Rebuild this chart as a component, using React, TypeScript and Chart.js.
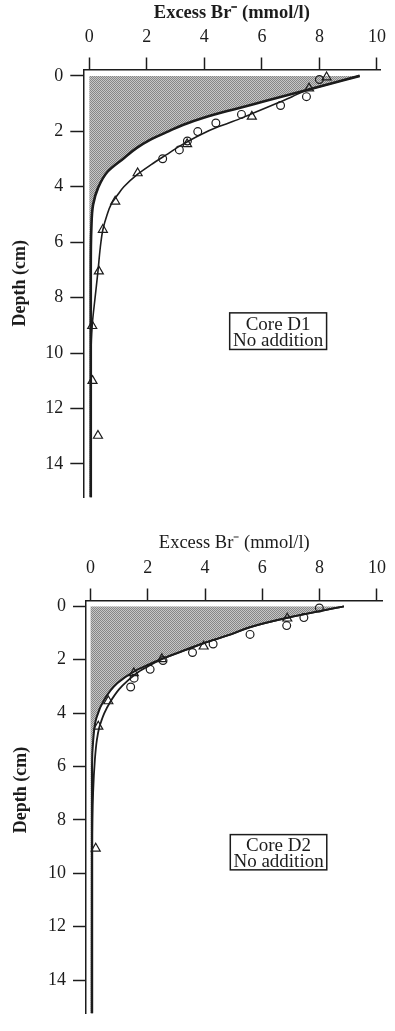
import { useEffect, useRef } from 'react';
import { Chart, registerables } from 'chart.js';

Chart.register(...registerables);

// ---------- axis ticks ----------
const X_TICKS = [0, 2, 4, 6, 8, 10];
const Y_TICKS = [0, 2, 4, 6, 8, 10, 12, 14];

// ---------- Core D1 ----------
const D1_MODEL_DEPTH = [0, 0.5, 0.9, 1.2, 1.5, 1.77, 2.0, 2.31, 2.6, 2.97, 3.45, 4.05, 4.65, 5.5, 7.0, 15.3];
const D1_MODEL_BR = [9.4, 7.6, 6.15, 5.05, 4.0, 3.25, 2.75, 2.11, 1.65, 1.2, 0.64, 0.3, 0.13, 0.07, 0.05, 0.05];

const D1_FIT_DEPTH = [0, 0.25, 0.5, 0.75, 1.0, 1.41, 1.65, 1.83, 2.13, 2.5, 2.85, 3.2, 3.57, 4.0, 4.3, 4.65, 5.0, 5.55, 6.2, 7.05, 8.0, 9.0, 10.0, 15.3];
const D1_FIT_BR = [9.4, 8.5, 7.6, 7.05, 6.5, 5.55, 4.98, 4.5, 3.85, 3.2, 2.67, 2.15, 1.65, 1.2, 0.98, 0.75, 0.62, 0.47, 0.38, 0.3, 0.2, 0.1, 0.06, 0.06];

const D1_CIRCLE_DEPTH = [0.13, 0.75, 1.07, 1.39, 1.7, 2.01, 2.35, 2.67, 2.99];
const D1_CIRCLE_BR = [8.0, 7.55, 6.65, 5.29, 4.4, 3.77, 3.41, 3.13, 2.55];

const D1_TRIANGLE_DEPTH = [0.05, 0.45, 1.47, 2.46, 3.51, 4.53, 5.55, 7.05, 9.02, 11.0, 12.98];
const D1_TRIANGLE_BR = [8.25, 7.64, 5.65, 3.4, 1.68, 0.9, 0.47, 0.33, 0.1, 0.11, 0.3];

// ---------- Core D2 ----------
const D2_MODEL_DEPTH = [0, 0.42, 0.78, 1.05, 1.38, 1.7, 1.97, 2.2, 2.45, 2.87, 3.47, 4.19, 5.03, 6.0, 15.3];
const D2_MODEL_BR = [8.85, 6.91, 5.57, 4.9, 3.95, 3.15, 2.48, 1.98, 1.5, 0.94, 0.49, 0.2, 0.09, 0.05, 0.04];

const D2_FIT_DEPTH = [0, 0.42, 0.78, 1.05, 1.38, 1.7, 1.97, 2.25, 2.45, 2.8, 3.1, 3.59, 4.0, 4.31, 4.55, 5.0, 5.74, 6.94, 9.1, 15.3];
const D2_FIT_BR = [8.85, 6.91, 5.57, 4.9, 3.95, 3.15, 2.5, 2.0, 1.68, 1.28, 1.0, 0.68, 0.48, 0.37, 0.3, 0.22, 0.15, 0.09, 0.06, 0.06];

const D2_CIRCLE_DEPTH = [0.06, 0.42, 0.72, 1.05, 1.41, 1.73, 2.03, 2.36, 2.69, 3.02];
const D2_CIRCLE_BR = [7.99, 7.45, 6.85, 5.57, 4.28, 3.56, 2.53, 2.08, 1.52, 1.4];

const D2_TRIANGLE_DEPTH = [0.45, 1.5, 1.97, 2.5, 3.55, 4.5, 9.07];
const D2_TRIANGLE_BR = [6.87, 3.95, 2.49, 1.51, 0.62, 0.27, 0.18];

const X_TITLE = 'Excess Br\u207B (mmol/l)';
const Y_TITLE = 'Depth (cm)';

const INK = '#1c1c1c';
const SERIF = '"Liberation Serif", "Times New Roman", serif';

type Panel = {
  modelDepth: number[]; modelBr: number[];
  fitDepth: number[]; fitBr: number[];
  circleDepth: number[]; circleBr: number[];
  triDepth: number[]; triBr: number[];
  boxLines: string[];
  xMin: number; xMax: number; yMin: number; yMax: number;
  xAxisHeight: number; yAxisWidth: number;
  padRight: number; padBottom: number;
  titleWeight: string;
  modelWidth: number; fitWidth: number;
  axisYTitle: boolean;
  pluginYTitle: { x: number; y: number } | null;
};

const D1: Panel = {
  modelDepth: D1_MODEL_DEPTH, modelBr: D1_MODEL_BR,
  fitDepth: D1_FIT_DEPTH, fitBr: D1_FIT_BR,
  circleDepth: D1_CIRCLE_DEPTH, circleBr: D1_CIRCLE_BR,
  triDepth: D1_TRIANGLE_DEPTH, triBr: D1_TRIANGLE_BR,
  boxLines: ['Core D1', 'No addition'],
  xMin: -0.21, xMax: 10.12, yMin: -0.23, yMax: 15.2,
  xAxisHeight: 69.5, yAxisWidth: 83.3,
  padRight: 7, padBottom: 17,
  titleWeight: 'bold',
  modelWidth: 2.6, fitWidth: 1.6,
  axisYTitle: true,
  pluginYTitle: null,
};

const D2: Panel = {
  modelDepth: D2_MODEL_DEPTH, modelBr: D2_MODEL_BR,
  fitDepth: D2_FIT_DEPTH, fitBr: D2_FIT_BR,
  circleDepth: D2_CIRCLE_DEPTH, circleBr: D2_CIRCLE_BR,
  triDepth: D2_TRIANGLE_DEPTH, triBr: D2_TRIANGLE_BR,
  boxLines: ['Core D2', 'No addition'],
  xMin: -0.16, xMax: 10.2, yMin: -0.22, yMax: 15.24,
  xAxisHeight: 70.5, yAxisWidth: 86,
  padRight: 5, padBottom: 0,
  titleWeight: 'normal',
  modelWidth: 2.0, fitWidth: 1.8,
  axisYTitle: false,
  pluginYTitle: { x: 21, y: 260 },
};

function makePattern(): CanvasPattern | string {
  const c = document.createElement('canvas');
  c.width = 2;
  c.height = 2;
  const g = c.getContext('2d');
  if (!g) return '#a0a0a0';
  g.fillStyle = '#c6c6c6';
  g.fillRect(0, 0, 2, 2);
  g.fillStyle = '#868686';
  g.fillRect(0, 0, 1, 1);
  g.fillRect(1, 1, 1, 1);
  return g.createPattern(c, 'repeat') || '#a0a0a0';
}

const overlayPlugin = {
  id: 'overlay',
  afterDraw(chart: any, _args: any, opts: any) {
    const { ctx } = chart;
    const xs = chart.scales.x;
    const ys = chart.scales.y;
    ctx.save();
    // annotation box
    const l = xs.getPixelForValue(4.88);
    const r = xs.getPixelForValue(8.25);
    const t = ys.getPixelForValue(8.55);
    const b = ys.getPixelForValue(9.87);
    const h = b - t;
    ctx.lineWidth = 1.5;
    ctx.strokeStyle = INK;
    ctx.strokeRect(l, t, r - l, h);
    ctx.fillStyle = INK;
    ctx.font = `19px ${SERIF}`;
    ctx.textAlign = 'center';
    ctx.textBaseline = 'alphabetic';
    const cx = (l + r) / 2;
    const lines: string[] = opts.lines || [];
    if (lines[0]) ctx.fillText(lines[0], cx, t + 0.46 * h);
    if (lines[1]) ctx.fillText(lines[1], cx, t + 0.91 * h);
    // y title (when drawn manually)
    const yt = opts.yTitle;
    if (yt) {
      ctx.translate(yt.x, yt.y);
      ctx.rotate(-Math.PI / 2);
      ctx.font = `bold 18px ${SERIF}`;
      ctx.textAlign = 'center';
      ctx.textBaseline = 'middle';
      ctx.fillText(Y_TITLE, 0, 0);
    }
    ctx.restore();
  },
};

function pts(depth: number[], br: number[]) {
  return depth.map((d, i) => ({ x: br[i], y: d }));
}

function buildChart(canvas: HTMLCanvasElement, p: Panel) {
  const shade = makePattern();
  return new Chart(canvas, {
    type: 'line',
    data: {
      datasets: [
        {
          data: pts(p.modelDepth, p.modelBr),
          borderColor: INK,
          borderWidth: p.modelWidth,
          backgroundColor: shade as any,
          fill: 'origin',
          pointRadius: 0,
          cubicInterpolationMode: 'monotone',
          order: 4,
        },
        {
          data: pts(p.fitDepth, p.fitBr),
          borderColor: INK,
          borderWidth: p.fitWidth,
          fill: false,
          pointRadius: 0,
          cubicInterpolationMode: 'monotone',
          order: 3,
        },
        {
          data: pts(p.circleDepth, p.circleBr),
          showLine: false,
          pointStyle: 'circle',
          pointRadius: 3.9,
          pointBorderWidth: 1.2,
          pointBorderColor: INK,
          pointBackgroundColor: 'rgba(0,0,0,0)',
          order: 2,
        },
        {
          data: pts(p.triDepth, p.triBr),
          showLine: false,
          pointStyle: 'triangle',
          pointRadius: 5.2,
          pointBorderWidth: 1.2,
          pointBorderColor: INK,
          pointBackgroundColor: 'rgba(0,0,0,0)',
          order: 1,
        },
      ] as any,
    },
    options: {
      indexAxis: 'y',
      responsive: false,
      animation: false,
      events: [],
      layout: { padding: { left: 0, top: 0, right: p.padRight, bottom: p.padBottom } },
      plugins: {
        legend: { display: false },
        tooltip: { enabled: false },
        overlay: { lines: p.boxLines, yTitle: p.pluginYTitle },
      } as any,
      scales: {
        x: {
          type: 'linear',
          position: 'top',
          min: p.xMin,
          max: p.xMax,
          afterBuildTicks: (s: any) => {
            s.ticks = X_TICKS.map((v) => ({ value: v }));
          },
          afterFit: (s: any) => {
            s.height = p.xAxisHeight;
          },
          grid: {
            drawOnChartArea: false,
            drawTicks: true,
            tickLength: 12,
            tickWidth: 1.5,
            tickColor: INK,
          },
          border: { display: true, color: INK, width: 1.5 },
          ticks: {
            padding: 9,
            color: INK,
            autoSkip: false,
            maxRotation: 0,
            font: { family: SERIF, size: 18 },
          },
          title: {
            display: true,
            text: X_TITLE,
            color: INK,
            font: { family: SERIF, size: 18.5, weight: p.titleWeight as any },
            padding: { top: 2, bottom: 0 },
          },
        },
        y: {
          type: 'linear',
          reverse: true,
          min: p.yMin,
          max: p.yMax,
          afterBuildTicks: (s: any) => {
            s.ticks = Y_TICKS.map((v) => ({ value: v }));
          },
          afterFit: (s: any) => {
            s.width = p.yAxisWidth;
          },
          grid: {
            drawOnChartArea: false,
            drawTicks: true,
            tickLength: 13,
            tickWidth: 1.5,
            tickColor: INK,
          },
          border: { display: true, color: INK, width: 1.5 },
          ticks: {
            padding: 7,
            color: INK,
            autoSkip: false,
            font: { family: SERIF, size: 18 },
          },
          title: {
            display: p.axisYTitle,
            text: Y_TITLE,
            color: INK,
            font: { family: SERIF, size: 18, weight: 'bold' },
            padding: { top: 10, bottom: 0 },
          },
        },
      },
    } as any,
    plugins: [overlayPlugin],
  });
}

export default function App() {
  const topRef = useRef<HTMLCanvasElement>(null);
  const botRef = useRef<HTMLCanvasElement>(null);

  useEffect(() => {
    document.body.style.margin = '0';
    const a = buildChart(topRef.current as HTMLCanvasElement, D1);
    const b = buildChart(botRef.current as HTMLCanvasElement, D2);
    return () => {
      a.destroy();
      b.destroy();
    };
  }, []);

  return (
    <div style={{ position: 'relative', width: 395, height: 1031, background: '#fff', overflow: 'hidden' }}>
      <canvas
        ref={topRef}
        width={395}
        height={515}
        style={{ position: 'absolute', left: 0, top: 0, width: 395, height: 515 }}
      />
      <canvas
        ref={botRef}
        width={395}
        height={501}
        style={{ position: 'absolute', left: 0, top: 530, width: 395, height: 501 }}
      />
    </div>
  );
}
